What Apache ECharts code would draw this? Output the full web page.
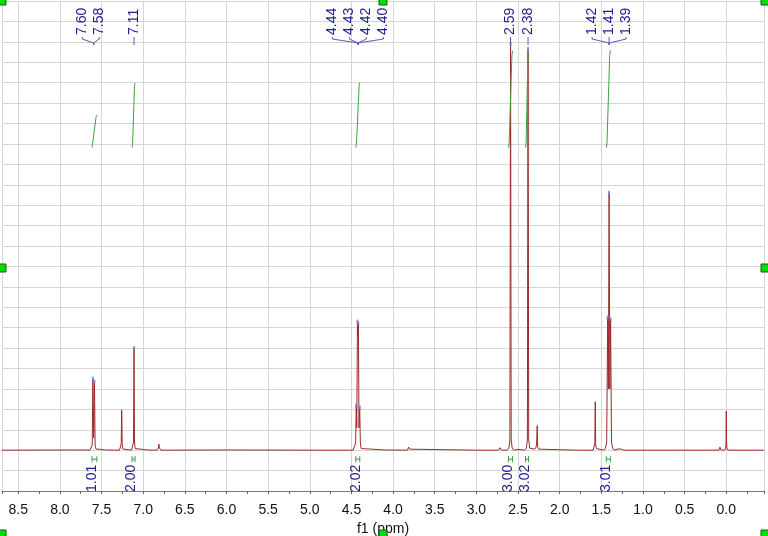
<!DOCTYPE html>
<html><head><meta charset="utf-8">
<script src="https://cdn.jsdelivr.net/npm/echarts@6/dist/echarts.min.js"></script>
<style>html,body{margin:0;padding:0;background:#fff}#c{width:768px;height:536px}</style>
</head><body><div id="c"></div>
<script>
// 1H NMR spectrum: [ppm, intensity]
const spectrum = [
 [8.70,0],[7.70,0.01],
 [7.640,0],[7.622,0.06],[7.612,0.25],[7.604,3.5],[7.595,0.6],[7.585,3.35],[7.577,0.25],[7.567,0.06],[7.550,0],
 [7.45,0.01],[7.35,0],
 [7.285,0],[7.270,0.06],[7.264,0.3],[7.258,1.97],[7.252,0.3],[7.246,0.06],[7.230,0],
 [7.140,0],[7.124,0.08],[7.116,0.4],[7.110,5.0],[7.104,0.4],[7.096,0.08],[7.080,0],
 [6.95,0.01],
 [6.835,0],[6.818,0.1],[6.812,0.3],[6.805,0.1],[6.785,0],
 [6.00,0.01],[5.00,0],
 [4.480,0],[4.460,0.08],[4.450,0.35],[4.442,2.2],[4.436,1.1],[4.428,6.3],[4.422,5.6],[4.417,6.2],[4.409,1.1],[4.401,2.1],[4.393,0.35],[4.383,0.08],[4.360,0],
 [4.10,0.01],
 [3.830,0],[3.818,0.05],[3.812,0.15],[3.806,0.05],[3.795,0],
 [3.00,0],
 [2.735,0],[2.716,0.12],[2.700,0],
 [2.630,0],[2.610,0.1],[2.598,0.5],[2.590,19.9],[2.582,0.5],[2.570,0.1],[2.550,0],
 [2.50,0.04],
 [2.420,0],[2.400,0.1],[2.388,0.5],[2.380,19.65],[2.372,0.5],[2.360,0.1],[2.340,0.02],
 [2.300,0.05],[2.283,0.15],[2.276,0.4],[2.270,1.2],[2.264,0.15],[2.250,0.05],[2.230,0],
 [1.80,0],
 [1.600,0],[1.585,0.08],[1.578,0.3],[1.573,2.37],[1.568,0.3],[1.561,0.08],[1.548,0],
 [1.470,0],[1.450,0.1],[1.436,0.4],[1.424,6.5],[1.416,3.0],[1.407,12.6],[1.398,3.0],[1.389,6.4],[1.378,0.4],[1.365,0.1],[1.345,0],
 [1.300,0.06],[1.285,0.1],[1.270,0.06],[1.262,0.12],[1.250,0.05],[1.230,0],
 [0.50,0],
 [0.090,0],[0.076,0.15],[0.062,0],
 [0.020,0],[0.008,0.1],[0.003,0.4],[0.000,1.92],[-0.003,0.4],[-0.008,0.1],[-0.020,0],
 [-0.45,0]
];

// labelled peak apexes [ppm, intensity]
const peakTops = [[7.604,3.5],[7.585,3.35],[7.110,5.0],[4.442,2.2],[4.428,6.3],[4.417,6.2],[4.401,2.1],
                  [2.590,19.9],[2.380,19.65],[1.424,6.5],[1.407,12.6],[1.389,6.4]];
// peak label groups (text) and their centre ppm
const peakGroupLabels = [['7.60','7.58'],['7.11'],['4.44','4.43','4.42','4.40'],['2.59'],['2.38'],['1.42','1.41','1.39']];
const peakGroupCenters = [7.594, 7.110, 4.422, 2.590, 2.380, 1.407];

// integrals
const integralValues = ['1.01','2.00','2.02','3.00','3.02','3.01'];
const integralRanges = [[7.614,7.556],[7.134,7.098],[4.448,4.400],[2.614,2.566],[2.410,2.374],[1.440,1.392]];
const integralCurves = [
 [[7.614,0],[7.605,0.05],[7.565,0.96],[7.556,1.01]],
 [[7.134,0],[7.127,0.10],[7.105,1.90],[7.098,2.00]],
 [[4.448,0],[4.440,0.10],[4.408,1.92],[4.400,2.02]],
 [[2.614,0],[2.606,0.15],[2.574,2.85],[2.566,3.00]],
 [[2.410,0],[2.403,0.15],[2.381,2.87],[2.374,3.02]],
 [[1.440,0],[1.432,0.15],[1.400,2.86],[1.392,3.01]]
];

const FONT = '14px "Liberation Sans", Arial, sans-serif';
const NAVY = '#1c1c8e';
const groupShift = [-3,0,0,0,0,0];

const chart = echarts.init(document.getElementById('c'), null, {renderer:'canvas'});

const series = [
 {type:'line', data: spectrum, symbol:'none', showSymbol:false, lineStyle:{color:'#9c2a2a', width:1}, z:2, clip:true, silent:true}
];
integralCurves.forEach(c => series.push({
 type:'line', yAxisIndex:1, data:c, symbol:'none', showSymbol:false, smooth:false,
 lineStyle:{color:'#40a040', width:1}, z:3, silent:true
}));
series.push({type:'scatter', data: peakTops, symbol:'rect', symbolSize:[2,4], itemStyle:{color:'#7a7ad4'}, z:4, silent:true});
series.push({
 type:'custom', z:5, silent:true,
 data: peakGroupCenters.map((c,i)=>[c,i]),
 renderItem(params, api){
  const i = api.value(1);
  const cx = api.coord([api.value(0), 0])[0];
  const labs = peakGroupLabels[i];
  const n = labs.length;
  const children = [];
  labs.forEach((t,j)=>{
   const lx = n===1 ? cx : cx + groupShift[i] + (j-(n-1)/2)*17;
   children.push({type:'text', x: lx, y: 35, rotation: Math.PI/2,
     style:{text:t, fill:NAVY, font:FONT, textAlign:'left', textVerticalAlign:'middle'}});
   const pts = n===1 ? [[cx,37],[cx,45]] : [[lx,37],[lx,39],[cx,43],[cx,45]];
   children.push({type:'polyline', shape:{points:pts}, style:{stroke:'#5a5ab8', lineWidth:1, fill:null}});
  });
  return {type:'group', children};
 }
});
series.push({
 type:'custom', z:5, silent:true,
 data: integralRanges.map((r,i)=>[r[0], r[1], i]),
 encode:{x:[0,1], y:2},
 renderItem(params, api){
  const x1 = api.coord([api.value(0), 0])[0];
  const x2 = api.coord([api.value(1), 0])[0];
  const base = api.coord([api.value(0), 0])[1];
  const bottom = api.coord([api.value(0), -2])[1];
  const i = api.value(2);
  const cx = (x1+x2)/2 - 2;
  const my = base + 9;
  return {type:'group', children:[
   {type:'polyline', shape:{points:[[x1,my-3],[x1,my+3]]}, style:{stroke:'#3c9c3c', lineWidth:1, fill:null}},
   {type:'polyline', shape:{points:[[x1,my],[x2,my]]}, style:{stroke:'#3c9c3c', lineWidth:1, fill:null}},
   {type:'polyline', shape:{points:[[x2,my-3],[x2,my+3]]}, style:{stroke:'#3c9c3c', lineWidth:1, fill:null}},
   {type:'text', x: cx, y: bottom+1, rotation: Math.PI/2,
     style:{text: integralValues[i], fill:NAVY, font:FONT, textAlign:'left', textVerticalAlign:'middle'}}
  ]};
 }
});

const handles = [];
[[-2,-3],[379,-3],[761,-3],[-2,264],[761,264],[-2,530],[379,530],[761,530]].forEach(p=>{
 handles.push({type:'rect', shape:{x:p[0], y:p[1], width:8, height:8}, style:{fill:'#00e000', stroke:'#1a5a1a', lineWidth:1}, z:100});
});

chart.setOption({
 animation:false,
 backgroundColor:'#fff',
 grid:{left:2, right:4, top:1, bottom:45, containLabel:false, outerBoundsMode:'none'},
 xAxis:[{
  type:'value', inverse:true, min:-0.4526, max:8.695, minInterval:0.5, maxInterval:0.5, splitNumber:18,
  axisLine:{onZero:false, lineStyle:{color:'#7a7a7a', width:1}},
  axisTick:{show:true, length:3, lineStyle:{color:'#666'}},
  minorTick:{show:true, splitNumber:2, length:3, lineStyle:{color:'#666'}},
  axisLabel:{showMinLabel:false, showMaxLabel:false, margin:12, fontSize:14, color:'#111',
    fontFamily:'"Liberation Sans", Arial, sans-serif', formatter:v=>v.toFixed(1)},
  splitLine:{show:true, lineStyle:{color:'#d6d6d6', width:1}},
  name:'f1 (ppm)', nameLocation:'middle', nameGap:29,
  nameTextStyle:{fontSize:14, color:'#111', fontFamily:'"Liberation Sans", Arial, sans-serif'}
 }],
 yAxis:[
  {type:'value', min:-2, max:22, interval:1, axisLine:{show:false}, axisTick:{show:false}, axisLabel:{show:false},
   splitLine:{show:true, lineStyle:{color:'#d6d6d6', width:1}}},
  {type:'value', min:-10.667, max:4.55, show:false, splitLine:{show:false}, alignTicks:false}
 ],
 series,
 graphic: handles
});
</script></body></html>
